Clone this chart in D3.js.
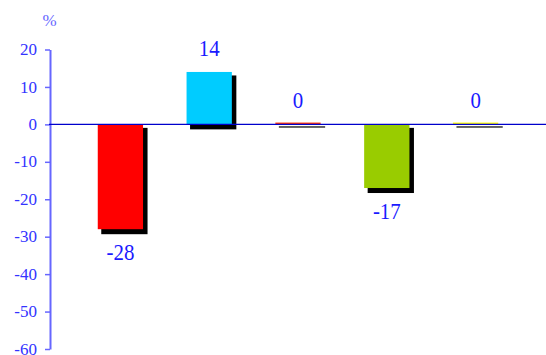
<!DOCTYPE html>
<html>
<head>
<meta charset="utf-8">
<script src="https://cdn.jsdelivr.net/npm/d3@7"></script>
<style>
  body { margin: 0; background: #fff; }
  svg { display: block; }
</style>
</head>
<body>
<div id="chart-area"></div>
<script>
// canvas size
const svgWidth = 546,
      svgHeight = 355;

// data
const categories = ["a", "b", "c", "d", "e"];
const values = [-28, 14, 0, -17, 0];
const barColors = ["#ff0000", "#00ccff", "#ff3300", "#99cc00", "#ffff00"];
const labels = ["-28", "14", "0", "-17", "0"];
const yTicks = [20, 10, 0, -10, -20, -30, -40, -50, -60];

const serif = "Liberation Serif, DejaVu Serif, serif";

var svg = d3.select("#chart-area")
    .append("svg")
    .attr("width", svgWidth)
    .attr("height", svgHeight);

// scales
var yScale = d3.scaleLinear()
    .domain([-60, 20])
    .range([349, 49.5]);

var xScale = d3.scaleBand()
    .domain(categories)
    .range([76, 520])
    .paddingInner(0.49)
    .paddingOuter(0.245);

// y axis
var yAxisCall = d3.axisLeft(yScale)
    .tickValues(yTicks)
    .tickSize(5)
    .tickSizeOuter(0)
    .tickPadding(8)
    .tickFormat(function(d){ return d; });

var yAxis = svg.append("g")
    .attr("transform", "translate(50,0)")
    .call(yAxisCall)
    .attr("font-family", serif)
    .attr("font-size", 17);
yAxis.select(".domain")
    .attr("stroke", "#6666ff")
    .attr("stroke-width", 2);
yAxis.selectAll(".tick line")
    .attr("stroke", "#6666ff")
    .attr("stroke-width", 1.5);
yAxis.selectAll(".tick text")
    .attr("fill", "#3333ff")
    .attr("dy", "0.3em");

// unit label
svg.append("text")
    .attr("x", 49.5)
    .attr("y", 26)
    .attr("text-anchor", "middle")
    .attr("fill", "#6666ff")
    .attr("font-family", serif)
    .attr("font-size", 17)
    .text("%");

var data = categories.map(function(c, i){
    return {cat: c, value: values[i], color: barColors[i], label: labels[i]};
});

// bar shadows
svg.selectAll("rect.shadow")
    .data(data)
    .enter()
    .append("rect")
    .attr("class", "shadow")
    .attr("fill", "#000")
    .attr("x", function(d){ return xScale(d.cat) + 3.5; })
    .attr("y", function(d){ return Math.min(yScale(d.value), yScale(0)) + (d.value == 0 ? 2 : 3.5); })
    .attr("width", xScale.bandwidth() + 1)
    .attr("height", function(d){ return d.value == 0 ? 1.2 : Math.abs(yScale(d.value) - yScale(0)) + 1.5; });

// bars
svg.selectAll("rect.bar")
    .data(data)
    .enter()
    .append("rect")
    .attr("class", "bar")
    .attr("fill", function(d){ return d.color; })
    .attr("x", function(d){ return xScale(d.cat); })
    .attr("y", function(d){ return d.value == 0 ? yScale(0) - 1.8 : Math.min(yScale(d.value), yScale(0)); })
    .attr("width", xScale.bandwidth())
    .attr("height", function(d){ return d.value == 0 ? 1.8 : Math.abs(yScale(d.value) - yScale(0)); });

// zero line
svg.append("line")
    .attr("x1", 49)
    .attr("x2", svgWidth)
    .attr("y1", yScale(0))
    .attr("y2", yScale(0))
    .attr("stroke", "#0000cc")
    .attr("stroke-width", 1.2);

// value labels
svg.selectAll("text.value")
    .data(data)
    .enter()
    .append("text")
    .attr("class", "value")
    .attr("transform", function(d){
        var cx = xScale(d.cat) + xScale.bandwidth() / 2;
        var y = d.value >= 0 ? yScale(d.value) - 16 : yScale(d.value) + 31;
        return "translate(" + cx + "," + y + ") scale(0.87,1)";
    })
    .attr("text-anchor", "middle")
    .attr("fill", "#1a1aff")
    .attr("font-family", serif)
    .attr("font-size", 24)
    .text(function(d){ return d.label; });
</script>
</body>
</html>
